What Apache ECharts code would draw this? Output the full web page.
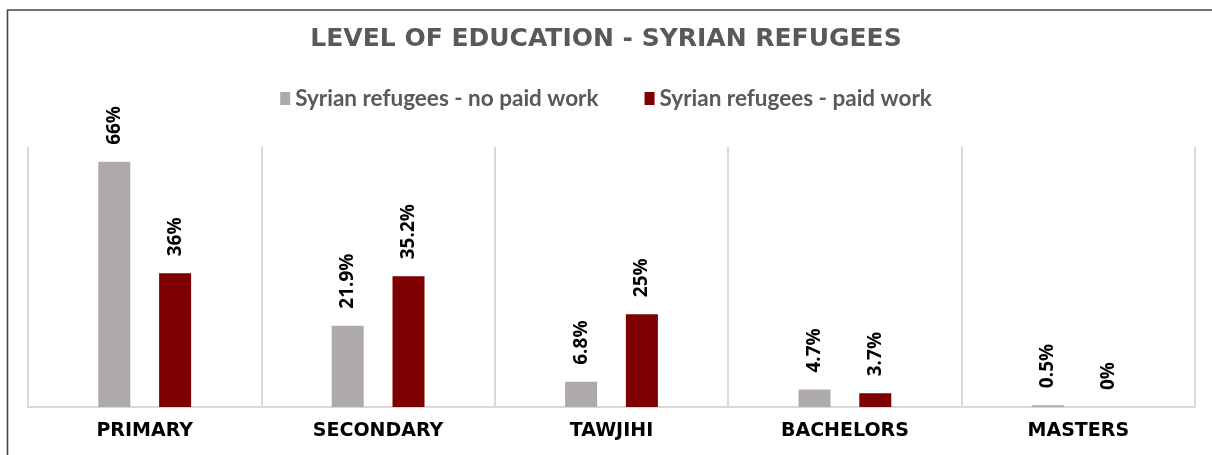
<!DOCTYPE html>
<html>
<head>
<meta charset="utf-8">
<script src="https://cdn.jsdelivr.net/npm/echarts@6/dist/echarts.min.js"></script>
<style>
html,body{margin:0;padding:0;background:#fff;}
#chart{width:1212px;height:455px;}
</style>
</head>
<body>
<div id="chart"></div>
<script>
const categories = ['PRIMARY', 'SECONDARY', 'TAWJIHI', 'BACHELORS', 'MASTERS'];
const seriesNames = ['Syrian refugees - no paid work', 'Syrian refugees - paid work'];
const noPaidWork = [66, 21.9, 6.8, 4.7, 0.5];
const paidWork = [36, 35.2, 25, 3.7, 0];
const labelTexts = {
  noPaid: ['66%', '21.9%', '6.8%', '4.7%', '0.5%'],
  paid: ['36%', '35.2%', '25%', '3.7%', '0%']
};
const titleText = 'LEVEL OF EDUCATION - SYRIAN REFUGEES';

const chart = echarts.init(document.getElementById('chart'), null, {renderer: 'canvas'});

function barLabel(texts) {
  return {
    show: true,
    position: 'top',
    rotate: 90,
    align: 'left',
    verticalAlign: 'middle',
    distance: 17,
    color: '#000',
    fontFamily: 'Open Sans',
    fontWeight: 'bold',
    fontSize: 19,
    formatter: p => texts[p.dataIndex]
  };
}

chart.setOption({
  animation: false,
  backgroundColor: '#fff',
  title: {
    text: titleText,
    left: 'center',
    top: 22,
    textStyle: {
      color: '#595959',
      fontFamily: 'DejaVu Sans',
      fontWeight: 'bold',
      fontSize: 25
    }
  },
  legend: {
    top: 82,
    left: 'center',
    itemWidth: 10,
    itemHeight: 13,
    itemGap: 46,
    icon: 'rect',
    textStyle: {
      color: '#595959',
      fontFamily: 'Lato',
      fontWeight: 'bold',
      fontSize: 22.5
    },
    data: seriesNames
  },
  grid: {left: 28, right: 17, top: 147, bottom: 48, containLabel: false},
  xAxis: {
    type: 'category',
    data: categories,
    boundaryGap: true,
    axisLine: {show: true, lineStyle: {color: '#d9d9d9', width: 2}},
    axisTick: {show: false},
    splitLine: {show: true, lineStyle: {color: '#d9d9d9', width: 2}},
    axisLabel: {
      interval: 0,
      margin: 15,
      color: '#000',
      fontFamily: 'DejaVu Sans',
      fontWeight: 'bold',
      fontSize: 19
    }
  },
  yAxis: {
    type: 'value',
    min: 0,
    max: 70,
    show: false,
    splitLine: {show: false}
  },
  series: [
    {
      name: seriesNames[0],
      type: 'bar',
      data: noPaidWork,
      barWidth: 32,
      barGap: '90%',
      itemStyle: {color: '#aeaaaa'},
      label: barLabel(labelTexts.noPaid)
    },
    {
      name: seriesNames[1],
      type: 'bar',
      data: paidWork,
      barWidth: 32,
      barGap: '90%',
      itemStyle: {color: '#7f0000'},
      label: barLabel(labelTexts.paid)
    }
  ],
  graphic: [
    {
      type: 'polyline',
      x: 0, y: 0,
      shape: {points: [[7.5, 455], [7.5, 10], [1212, 10]]},
      style: {stroke: '#444', lineWidth: 1.6, fill: null}
    }
  ]
});
</script>
</body>
</html>
